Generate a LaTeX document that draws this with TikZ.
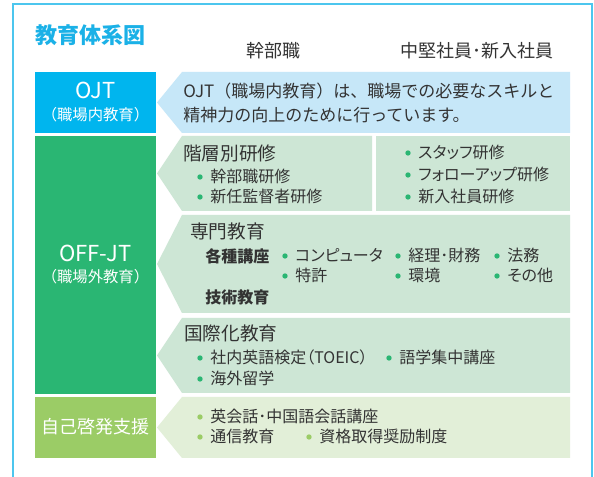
\documentclass[tikz,border=0pt]{standalone}
\usepackage{fontspec}
\setmainfont{Noto Sans CJK JP}
\newfontfamily\pf{Noto Sans CJK JP}[RawFeature=+palt]
\definecolor{frame}{HTML}{4CC6EE}
\definecolor{ttl}{HTML}{1BB1E7}
\definecolor{ojt}{HTML}{00B5EE}
\definecolor{ojtl}{HTML}{C6E7F8}
\definecolor{off}{HTML}{2AB673}
\definecolor{offl}{HTML}{CDE6D5}
\definecolor{self}{HTML}{9BCC66}
\definecolor{selfl}{HTML}{E2EFD8}
\definecolor{txt}{HTML}{333333}
\newcommand\tagshape[4]{\fill[#1] (157,{(#2+#3)/2}) -- (182,#2) -- (#4,#2) -- (#4,#3) -- (182,#3) -- cycle;}
\newcommand\bul[5]{\fill[#4] (#2,#3) circle (2pt);
  \node[itm, anchor=west] (#1) at ({#2+10},#3) {#5};}
\begin{document}
\begin{tikzpicture}[x=0.75pt,y=-0.75pt,
  every node/.style={inner sep=0pt, text height=0.88em, text depth=0.12em, text=txt},
  itm/.style={font=\pf\fontsize{12}{14}\selectfont},
  head/.style={font=\fontsize{14}{16}\selectfont, anchor=west},
  sub/.style={font=\bfseries\fontsize{12}{14}\selectfont, anchor=west},
  col/.style={font=\fontsize{13.5}{15}\selectfont},
  lab/.style={text=white}]
\useasboundingbox (0,0) rectangle (594,477);
\clip (0,0) rectangle (594,477);
\fill[white] (0,0) rectangle (594,477);
\draw[frame, line width=1.5pt] (13,4) rectangle (592,520);

\node[anchor=west, text=ttl, font=\bfseries\fontsize{16.5}{18}\selectfont] (title) at (35,38) {教育体系図};
\node[col] (c1) at (273,52) {幹部職};
\node[col] (c2) at (477,52) {中堅社員･新入社員};

% left column
\fill[ojt] (35,72) rectangle (156,133);
\fill[off] (35,136) rectangle (156,394);
\fill[self] (35,397) rectangle (156,458);
\node[lab, font=\fontsize{16.5}{18}\selectfont] (ojt) at (95.5,93) {OJT};
\node[lab, font=\fontsize{11.5}{13}\selectfont] (ojt2) at (95.5,115) {（職場内教育）};
\node[lab, font=\fontsize{16.5}{18}\selectfont] (offjt) at (95.5,256) {OFF-JT};
\node[lab, font=\fontsize{11.5}{13}\selectfont] (offjt2) at (95.5,277) {（職場外教育）};
\node[lab, font=\fontsize{13.5}{15}\selectfont] (selfdev) at (95.5,428) {自己啓発支援};

% right shapes
\tagshape{ojtl}{72}{133}{570}
\tagshape{offl}{136}{211}{372}
\fill[offl] (376,136) rectangle (570,211);
\tagshape{offl}{215}{313}{570}
\tagshape{offl}{318}{393}{570}
\tagshape{selfl}{397}{458}{570}

% OJT text
\node[anchor=west, font=\fontsize{12.75}{15}\selectfont] (d1) at (183,92) {OJT（職場内教育）は、職場での必要なスキルと};
\node[anchor=west, font=\fontsize{12.75}{15}\selectfont] (d2) at (183,116) {精神力の向上のために行っています。};

% 階層別研修
\node[head] (h1) at (183,155) {階層別研修};
\bul{b1}{200}{177}{off}{幹部職研修}
\bul{b2}{200}{197}{off}{新任監督者研修}
\bul{b3}{408}{153}{off}{スタッフ研修}
\bul{b4}{408}{175}{off}{フォローアップ研修}
\bul{b5}{408}{197}{off}{新入社員研修}

% 専門教育
\node[head] (h2) at (190,233) {専門教育};
\node[sub] (s1) at (205,257) {各種講座};
\node[sub] (s2) at (205,298) {技術教育};
\bul{b6}{285}{256}{off}{コンピュータ}
\bul{b7}{285}{276}{off}{特許}
\bul{b8}{398}{256}{off}{経理･財務}
\bul{b9}{398}{276}{off}{環境}
\bul{b10}{497}{256}{off}{法務}
\bul{b11}{497}{276}{off}{その他}

% 国際化教育
\node[head] (h3) at (184,335) {国際化教育};
\bul{b12}{200}{358}{off}{社内英語検定（TOEIC）}
\bul{b13}{389}{358}{off}{語学集中講座}
\bul{b14}{200}{379}{off}{海外留学}

% 自己啓発
\bul{b15}{200}{417}{self}{英会話･中国語会話講座}
\bul{b16}{200}{437}{self}{通信教育}
\bul{b17}{309}{437}{self}{資格取得奨励制度}
\end{tikzpicture}
\end{document}
